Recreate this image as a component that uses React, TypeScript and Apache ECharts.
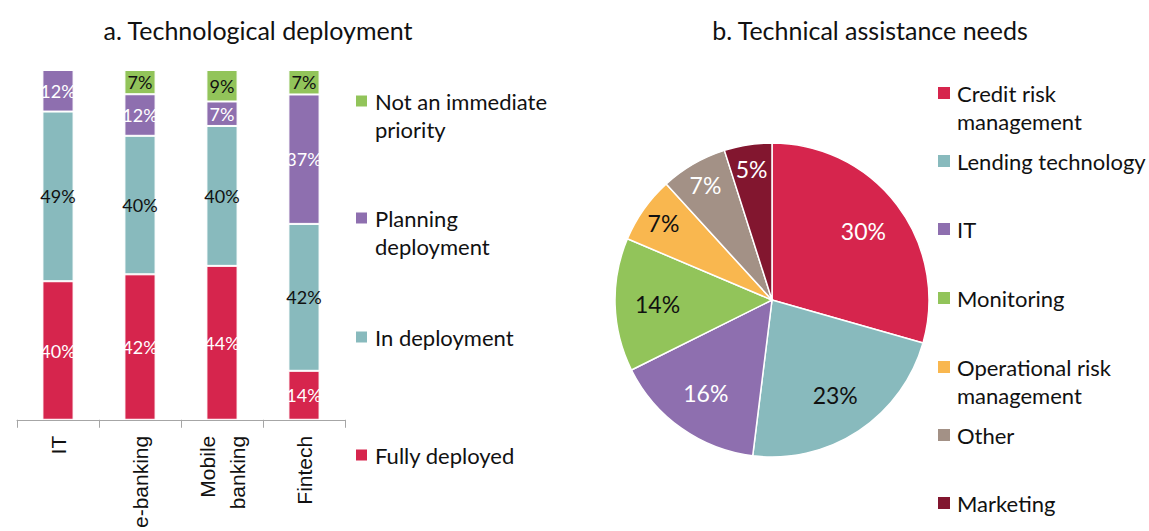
import React, { useEffect, useRef } from "react";
import * as echarts from "echarts";

// ---- Data: a. Technological deployment ----
const barCategories = ["IT", "e-banking", "Mobile\nbanking", "Fintech"];
const fullyDeployed = [40, 42, 44, 14];
const inDeployment = [49, 40, 40, 42];
const planningDeployment = [12, 12, 7, 37];
const notImmediatePriority = [0, 7, 9, 7];
const barSeriesNames = ["Fully deployed", "In deployment", "Planning deployment", "Not an immediate priority"];
const barLegendLabels = ["Fully deployed", "In deployment", "Planning\ndeployment", "Not an immediate\npriority"];

// ---- Data: b. Technical assistance needs ----
const pieNames = [
  "Credit risk management",
  "Lending technology",
  "IT",
  "Monitoring",
  "Operational risk management",
  "Other",
  "Marketing",
];
const pieLegendLabels = [
  "Credit risk\nmanagement",
  "Lending technology",
  "IT",
  "Monitoring",
  "Operational risk\nmanagement",
  "Other",
  "Marketing",
];
const pieValues = [30, 23, 16, 14, 7, 7, 5];

// ---- Styles ----
const FONT = "Lato, 'Open Sans', sans-serif";
const TEXT = "#111111";
const barColors = ["#D6254D", "#88BABD", "#8E6FAF", "#92C45A"];
const barLabelColors = ["#ffffff", "#111111", "#ffffff", "#111111"];
const pieColors = ["#D6254D", "#88BABD", "#8E6FAF", "#92C45A", "#F9B74F", "#A39186", "#82162F"];
const pieLabelColors = ["#ffffff", "#111111", "#ffffff", "#111111", "#111111", "#ffffff", "#ffffff"];

export default function App() {
  const ref = useRef<HTMLDivElement>(null);

  useEffect(() => {
    if (!ref.current) return;
    const chart = echarts.init(ref.current, undefined, { renderer: "svg" });

    const barRaw = [fullyDeployed, inDeployment, planningDeployment, notImmediatePriority];
    const totals = barCategories.map((_, i) => barRaw.reduce((s, arr) => s + arr[i], 0));

    const barSeries = barRaw.map((arr, si) => ({
      type: "bar",
      name: barSeriesNames[si],
      stack: "total",
      barWidth: "38%",
      xAxisIndex: 0,
      yAxisIndex: 0,
      data: arr.map((v, i) => (v * 100) / totals[i]),
      itemStyle: { color: barColors[si], borderColor: "#ffffff", borderWidth: 1 },
      label: {
        show: true,
        position: "inside",
        fontFamily: FONT,
        fontSize: 18,
        color: barLabelColors[si],
        formatter: (p: any) => (arr[p.dataIndex] > 0 ? arr[p.dataIndex] + "%" : ""),
      },
      emphasis: { disabled: true },
    }));

    const center = [772, 300];
    const R = 157;

    const pieMain = {
      type: "pie",
      center,
      radius: [0, R],
      startAngle: 90,
      clockwise: true,
      data: pieNames.map((n, i) => ({ name: n, value: pieValues[i] })),
      itemStyle: {
        color: (p: any) => pieColors[p.dataIndex],
        borderColor: "#ffffff",
        borderWidth: 1.5,
      },
      label: { show: false },
      labelLine: { show: false },
      emphasis: { disabled: true },
      silent: true,
    };

    const overlay = (inner: number, pred: (v: number) => boolean) => ({
      type: "pie",
      center,
      radius: [inner, R],
      startAngle: 90,
      clockwise: true,
      silent: true,
      z: 5,
      data: pieNames.map((n, i) => ({
        name: n,
        value: pieValues[i],
        label: {
          show: pred(pieValues[i]),
          color: pieLabelColors[i],
        },
      })),
      itemStyle: { color: "rgba(0,0,0,0)", borderWidth: 0 },
      label: {
        position: "inside",
        fontFamily: FONT,
        fontSize: 23,
        formatter: (p: any) => p.value + "%",
      },
      labelLine: { show: false },
      emphasis: { disabled: true },
    });

    const graphics: any[] = [];
    // titles
    graphics.push({
      type: "text",
      x: 258,
      y: 30,
      style: {
        text: "a. Technological deployment",
        font: `25px ${FONT}`,
        fill: TEXT,
        align: "center",
        verticalAlign: "middle",
      },
    });
    graphics.push({
      type: "text",
      x: 870,
      y: 30,
      style: {
        text: "b. Technical assistance needs",
        font: `25px ${FONT}`,
        fill: TEXT,
        align: "center",
        verticalAlign: "middle",
      },
    });

    // bar legend (top to bottom: reverse series order)
    const barLegendY = [455, 337, 218, 101];
    barLegendLabels.forEach((label, i) => {
      const y = barLegendY[i];
      graphics.push({
        type: "rect",
        shape: { x: 356, y: y - 5.5, width: 11, height: 11 },
        style: { fill: barColors[i] },
      });
      graphics.push({
        type: "text",
        x: 375,
        y: y - 14,
        style: {
          text: label,
          font: `22px ${FONT}`,
          fill: TEXT,
          lineHeight: 28,
          verticalAlign: "top",
          align: "left",
        },
      });
    });

    // pie legend
    const pieLegendY = [93, 161, 229, 298, 367, 435, 503];
    pieLegendLabels.forEach((label, i) => {
      const y = pieLegendY[i];
      graphics.push({
        type: "rect",
        shape: { x: 938, y: y - 6, width: 12, height: 12 },
        style: { fill: pieColors[i] },
      });
      graphics.push({
        type: "text",
        x: 957,
        y: y - 14,
        style: {
          text: label,
          font: `22px ${FONT}`,
          fill: TEXT,
          lineHeight: 28,
          verticalAlign: "top",
          align: "left",
        },
      });
    });

    chart.setOption({
      animation: false,
      backgroundColor: "#ffffff",
      grid: { left: 17, top: 70, width: 328, height: 352, containLabel: false },
      xAxis: {
        type: "category",
        data: barCategories,
        axisLine: { show: true, lineStyle: { color: "#a6a6a6", width: 1 } },
        axisTick: { show: true, length: 8, lineStyle: { color: "#a6a6a6" } },
        axisLabel: {
          rotate: 90,
          margin: 16,
          fontFamily: "'Liberation Sans', Arial, sans-serif",
          fontSize: 21,
          color: "#111111",
          lineHeight: 30,
          interval: 0,
        },
      },
      yAxis: { type: "value", min: 0, max: 100, show: false },
      series: [...barSeries, pieMain, overlay(66, (v) => v >= 10), overlay(103, (v) => v < 10)],
      graphic: graphics,
    });

    return () => chart.dispose();
  }, []);

  return (
    <div
      ref={ref}
      style={{ position: "fixed", left: 0, top: 0, width: 1149, height: 531, background: "#fff" }}
    />
  );
}
